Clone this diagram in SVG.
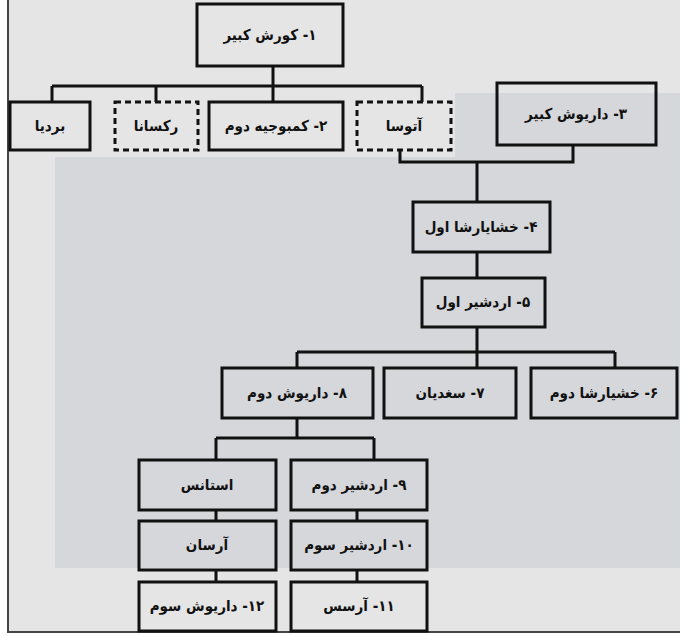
<svg xmlns="http://www.w3.org/2000/svg" width="686" height="637" viewBox="0 0 686 637">
<style>
.bx{fill:none;stroke:#111;stroke-width:3}
.ds{fill:none;stroke:#111;stroke-width:3;stroke-dasharray:6 4}
.t{font-family:"DejaVu Sans Condensed","DejaVu Sans",sans-serif;font-size:15px;font-weight:bold;fill:#111;text-anchor:middle;direction:rtl}
.cn{fill:none;stroke:#111;stroke-width:3}
</style>
<rect x="0" y="0" width="686" height="637" fill="#ffffff"/>
<rect x="8" y="0" width="672" height="632" fill="#e5e5e6"/>
<path d="M55 157 H455 V93 H680 V568 H55 Z" fill="#d5d7db"/>
<path d="M8 0 V632 H680" fill="none" stroke="#444" stroke-width="2"/>
<g id="connectors">
<path class="cn" d="M273 66 V86 M52 86 H422 M52 86 V102 M156 86 V102 M273 86 V102 M422 86 V102"/>
<path class="cn" d="M400 150 V162 H573 V145 M477 162 V202"/>
<path class="cn" d="M477 252 V278 M477 327 V352 M297 352 H615 M297 352 V368 M477 352 V368 M615 352 V368"/>
<path class="cn" d="M297 418 V438 M216 438 H374 M216 438 V460 M374 438 V460"/>
<path class="cn" d="M216 510 V521 M357 510 V521 M216 570 V582 M357 570 V582"/>
</g>
<g id="n1"><rect class="bx" x="197" y="4" width="146" height="62"/><text class="t" x="270" y="40">۱- کورش کبیر</text></g>
<g id="bardiya"><rect class="bx" x="10" y="102" width="80" height="48"/><text class="t" x="50" y="131">بردیا</text></g>
<g id="roxana"><rect class="ds" x="115" y="102" width="83" height="48"/><text class="t" x="156" y="131">رکسانا</text></g>
<g id="n2"><rect class="bx" x="209" y="102" width="134" height="48"/><text class="t" x="276" y="131">۲- کمبوجیه دوم</text></g>
<g id="atossa"><rect class="ds" x="357" y="102" width="94" height="48"/><text class="t" x="404" y="131">آتوسا</text></g>
<g id="n3"><rect class="bx" x="497" y="83" width="159" height="62"/><text class="t" x="576" y="119">۳- داریوش کبیر</text></g>
<g id="n4"><rect class="bx" x="413" y="202" width="137" height="50"/><text class="t" x="481" y="232">۴- خشایارشا اول</text></g>
<g id="n5"><rect class="bx" x="422" y="278" width="123" height="49"/><text class="t" x="483" y="307">۵- اردشیر اول</text></g>
<g id="n8"><rect class="bx" x="222" y="368" width="151" height="50"/><text class="t" x="297" y="398">۸- داریوش دوم</text></g>
<g id="n7"><rect class="bx" x="384" y="368" width="132" height="50"/><text class="t" x="450" y="398">۷- سغدیان</text></g>
<g id="n6"><rect class="bx" x="531" y="368" width="146" height="50"/><text class="t" x="604" y="398">۶- خشیارشا دوم</text></g>
<g id="statira"><rect class="bx" x="139" y="460" width="137" height="50"/><text class="t" x="207" y="490">استانس</text></g>
<g id="n9"><rect class="bx" x="291" y="460" width="136" height="50"/><text class="t" x="359" y="490">۹- اردشیر دوم</text></g>
<g id="arsames"><rect class="bx" x="139" y="521" width="137" height="49"/><text class="t" x="207" y="550">آرسان</text></g>
<g id="n10"><rect class="bx" x="291" y="521" width="136" height="49"/><text class="t" x="359" y="550">۱۰- اردشیر سوم</text></g>
<g id="n12"><rect class="bx" x="139" y="582" width="137" height="49"/><text class="t" x="207" y="611">۱۲- داریوش سوم</text></g>
<g id="n11"><rect class="bx" x="291" y="582" width="136" height="49"/><text class="t" x="359" y="611">۱۱- آرسس</text></g>
</svg>
